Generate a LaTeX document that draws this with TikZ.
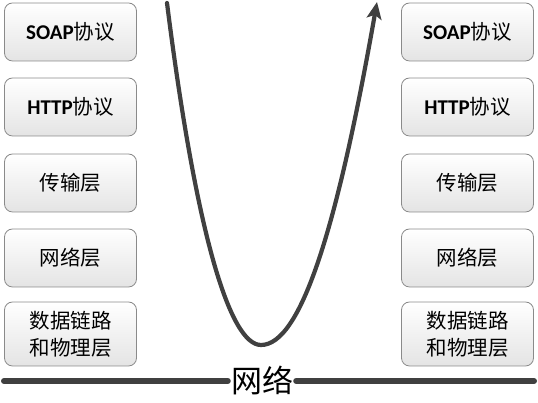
\documentclass[tikz,border=0pt]{standalone}
\usepackage{fontspec}
\setmainfont{Carlito}
\newfontfamily\cjk{Noto Sans CJK SC}
\usetikzlibrary{arrows.meta}
\definecolor{linegray}{HTML}{404040}
\definecolor{boxedge}{HTML}{8A8A8A}
\definecolor{boxbot}{HTML}{E4E4E4}
\tikzset{
  layerbox/.style={draw=boxedge, line width=0.8pt, rounded corners=8pt,
    top color=white, bottom color=boxbot, minimum width=132pt,
    minimum height=58pt, align=center, inner sep=0pt,
    font=\cjk\fontsize{20.5}{27}\selectfont},
  tallbox/.style={layerbox, minimum height=64pt},
  thick line/.style={draw=linegray, line width=4.2pt},
  base line/.style={draw=linegray, line width=6pt, line cap=round}
}
\newcommand{\lat}[1]{{\fontspec{Carlito}\bfseries\fontsize{21}{27}\selectfont #1}}
\begin{document}
\begin{tikzpicture}[x=1pt,y=1pt]
\useasboundingbox (0,0) rectangle (538,403);
% left stack
\node[layerbox] (l1) at (70.5,371) {\lat{SOAP}协议};
\node[layerbox] (l2) at (70.5,296) {\lat{HTTP}协议};
\node[layerbox] (l3) at (70.5,220) {传输层};
\node[layerbox] (l4) at (70.5,145) {网络层};
\node[tallbox] (l5) at (70.5,69) {数据链路\\和物理层};
% right stack
\node[layerbox] (r1) at (467.5,371) {\lat{SOAP}协议};
\node[layerbox] (r2) at (467.5,296) {\lat{HTTP}协议};
\node[layerbox] (r3) at (467.5,220) {传输层};
\node[layerbox] (r4) at (467.5,145) {网络层};
\node[tallbox] (r5) at (467.5,69) {数据链路\\和物理层};
% network line
\node[font=\cjk\fontsize{31}{31}\selectfont, inner sep=3pt] (net) at (262,23) {网络};
\coordinate (lineL) at (4,22);
\coordinate (lineR) at (534,22);
\draw[base line] (lineL) -- (net.west |- lineL);
\draw[base line] (net.east |- lineR) -- (lineR);
% U-shaped arrow
\coordinate (start) at (167,400);
\coordinate (bottom) at (261,58);
\coordinate (tip) at (377,401);
\draw[thick line, line cap=round, -{Stealth[length=17pt,width=15pt,inset=4pt]}]
  (start) .. controls (196,170) and (229.7,58) .. (bottom)
  .. controls (299.7,58) and (336,168) .. (tip);
\end{tikzpicture}
\end{document}
